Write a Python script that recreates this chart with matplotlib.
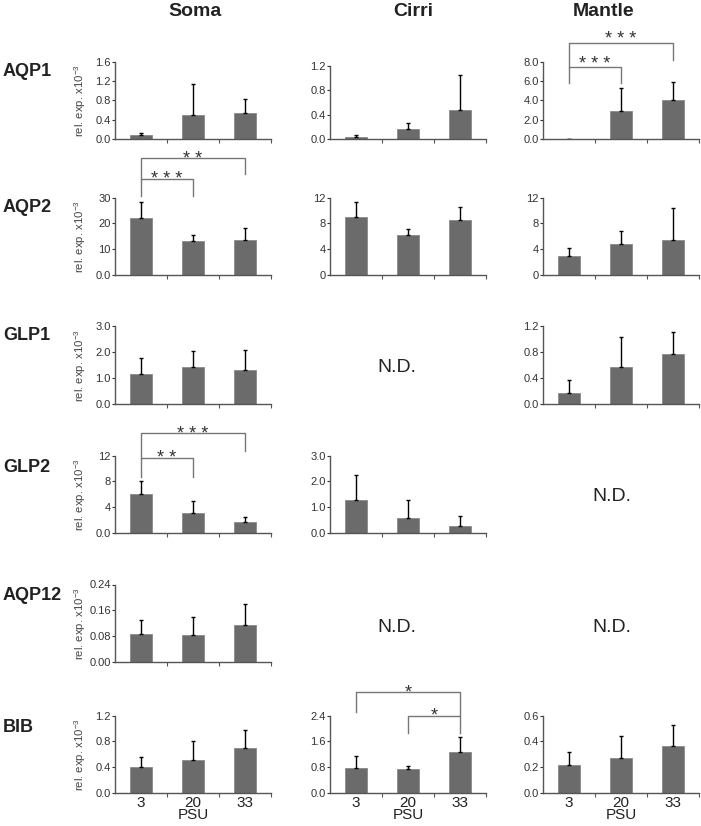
import matplotlib.pyplot as plt
import matplotlib.transforms as mtrans
import numpy as np

plt.rcParams['font.family'] = ['Liberation Sans', 'DejaVu Sans']
plt.rcParams['mathtext.fontset'] = 'custom'
plt.rcParams['mathtext.rm'] = 'Liberation Sans'

# salinity groups
psu = ['3', '20', '33']
tissues = ['Soma', 'Cirri', 'Mantle']
genes = ['AQP1', 'AQP2', 'GLP1', 'GLP2', 'AQP12', 'BIB']

# mean relative expression (x10^-3) and upper error
soma_aqp1 = [0.075, 0.49, 0.53]
soma_aqp1_err = [0.045, 0.65, 0.29]
cirri_aqp1 = [0.04, 0.16, 0.47]
cirri_aqp1_err = [0.03, 0.11, 0.58]
mantle_aqp1 = [0.05, 2.85, 4.0]
mantle_aqp1_err = [0.0, 2.45, 1.9]

soma_aqp2 = [21.9, 13.1, 13.7]
soma_aqp2_err = [6.3, 2.3, 4.4]
cirri_aqp2 = [9.05, 6.26, 8.54]
cirri_aqp2_err = [2.25, 0.88, 1.96]
mantle_aqp2 = [3.0, 4.85, 5.36]
mantle_aqp2_err = [1.2, 2.0, 4.94]

soma_glp1 = [1.15, 1.42, 1.33]
soma_glp1_err = [0.65, 0.62, 0.76]
mantle_glp1 = [0.165, 0.567, 0.78]
mantle_glp1_err = [0.2, 0.473, 0.34]

soma_glp2 = [6.1, 3.1, 1.66]
soma_glp2_err = [1.9, 1.87, 0.77]
cirri_glp2 = [1.28, 0.58, 0.29]
cirri_glp2_err = [0.95, 0.68, 0.38]

soma_aqp12 = [0.087, 0.083, 0.114]
soma_aqp12_err = [0.043, 0.056, 0.066]

soma_bib = [0.40, 0.505, 0.696]
soma_bib_err = [0.156, 0.295, 0.274]
cirri_bib = [0.77, 0.75, 1.28]
cirri_bib_err = [0.39, 0.08, 0.44]
mantle_bib = [0.213, 0.274, 0.367]
mantle_bib_err = [0.105, 0.166, 0.163]

# y tick labels per panel
ticks_soma_aqp1 = ['0.0', '0.4', '0.8', '1.2', '1.6']
ticks_cirri_aqp1 = ['0.0', '0.4', '0.8', '1.2']
ticks_mantle_aqp1 = ['0.0', '2.0', '4.0', '6.0', '8.0']
ticks_soma_aqp2 = ['0.0', '10', '20', '30']
ticks_cirri_aqp2 = ['0', '4', '8', '12']
ticks_mantle_aqp2 = ['0', '4', '8', '12']
ticks_soma_glp1 = ['0.0', '1.0', '2.0', '3.0']
ticks_mantle_glp1 = ['0.0', '0.4', '0.8', '1.2']
ticks_soma_glp2 = ['0.0', '4', '8', '12']
ticks_cirri_glp2 = ['0.0', '1.0', '2.0', '3.0']
ticks_soma_aqp12 = ['0.00', '0.08', '0.16', '0.24']
ticks_soma_bib = ['0.0', '0.4', '0.8', '1.2']
ticks_cirri_bib = ['0.0', '0.8', '1.6', '2.4']
ticks_mantle_bib = ['0.0', '0.2', '0.4', '0.6']

# significance comparisons (group a, group b, stars)
sig_soma_aqp2 = [(1, 3, '* *'), (1, 2, '* * *')]
sig_mantle_aqp1 = [(1, 3, '* * *'), (1, 2, '* * *')]
sig_soma_glp2 = [(1, 3, '* * *'), (1, 2, '* *')]
sig_cirri_bib = [(1, 3, '*'), (2, 3, '*')]

panels = {
    (0, 0): (soma_aqp1, soma_aqp1_err, ticks_soma_aqp1, None),
    (0, 1): (cirri_aqp1, cirri_aqp1_err, ticks_cirri_aqp1, None),
    (0, 2): (mantle_aqp1, mantle_aqp1_err, ticks_mantle_aqp1, sig_mantle_aqp1),
    (1, 0): (soma_aqp2, soma_aqp2_err, ticks_soma_aqp2, sig_soma_aqp2),
    (1, 1): (cirri_aqp2, cirri_aqp2_err, ticks_cirri_aqp2, None),
    (1, 2): (mantle_aqp2, mantle_aqp2_err, ticks_mantle_aqp2, None),
    (2, 0): (soma_glp1, soma_glp1_err, ticks_soma_glp1, None),
    (2, 2): (mantle_glp1, mantle_glp1_err, ticks_mantle_glp1, None),
    (3, 0): (soma_glp2, soma_glp2_err, ticks_soma_glp2, sig_soma_glp2),
    (3, 1): (cirri_glp2, cirri_glp2_err, ticks_cirri_glp2, None),
    (4, 0): (soma_aqp12, soma_aqp12_err, ticks_soma_aqp12, None),
    (5, 0): (soma_bib, soma_bib_err, ticks_soma_bib, None),
    (5, 1): (cirri_bib, cirri_bib_err, ticks_cirri_bib, sig_cirri_bib),
    (5, 2): (mantle_bib, mantle_bib_err, ticks_mantle_bib, None),
}

# bracket geometry in axes fraction: (top, left leg end, right leg end, star y)
bracket_geom = {
    (1, 0): [(1.506, 1.234, 1.30, 1.58), (1.234, 1.013, 1.013, 1.31)],
    (0, 2): [(1.244, 0.923, 1.013, 1.37), (0.923, 0.718, 0.718, 1.04)],
    (3, 0): [(1.286, 0.974, 1.052, 1.36), (0.974, 0.727, 0.727, 1.05)],
    (5, 1): [(1.30, 1.05, 1.0, 1.377), (1.0, 0.78, 0.78, 1.08)],
}

W, H = 701, 826
col_left = [115, 330, 543]
row_bottom = [139, 275, 404, 533, 662, 793]
ax_w, ax_h = 156, 77.5
short_h = {(0, 1): 73}
bar_color = '#6b6b6b'
spine_color = '#555555'

fig = plt.figure(figsize=(W / 100, H / 100), dpi=100)

title_x = [195, 413, 604]
for t, xt in zip(tissues, title_x):
    fig.text(xt / W, 1 - 11 / H, t, ha='center', va='center',
             fontsize=14, fontweight='bold', color='#222222')

gene_y = [72, 208, 335, 468, 595, 727]
for g, y in zip(genes, gene_y):
    fig.text(3 / W, 1 - y / H, g, ha='left', va='center',
             fontsize=13, fontweight='bold', color='#222222')

nd_pos = [(397, 368), (612, 497), (397, 627), (612, 627)]
for xn, yn in nd_pos:
    fig.text(xn / W, 1 - yn / H, 'N.D.', ha='center', va='center',
             fontsize=14, color='#222222')

x = np.arange(1, 4)
for (r, c), (vals, err, tlabels, sig) in panels.items():
    h = short_h.get((r, c), ax_h)
    ax = fig.add_axes([col_left[c] / W, 1 - row_bottom[r] / H, ax_w / W, h / H])
    ax.bar(x, vals, width=0.42, color=bar_color, edgecolor='#8a8a8a', linewidth=0.6)
    ax.errorbar(x, vals, yerr=[np.zeros(3), err], fmt='none', ecolor='black',
                elinewidth=1, capsize=1.5, capthick=1)
    tvals = [float(t) for t in tlabels]
    ax.set_ylim(0, tvals[-1])
    ax.set_xlim(0.5, 3.5)
    ax.set_yticks(tvals)
    ax.set_yticklabels(tlabels)
    ax.set_xticks(x)
    ax.set_xticks([1.5, 2.5, 3.5], minor=True)
    ax.tick_params(axis='y', length=2, width=0.8, pad=1, labelsize=8,
                   colors='#333333')
    ax.tick_params(axis='x', which='major', length=0, pad=2, labelsize=11,
                   labelcolor='#222222')
    ax.tick_params(axis='x', which='minor', length=3, width=0.8, color=spine_color)
    for s in ['top', 'right']:
        ax.spines[s].set_visible(False)
    for s in ['left', 'bottom']:
        ax.spines[s].set_color(spine_color)
        ax.spines[s].set_linewidth(1)
    if r == 5:
        ax.set_xticklabels(psu)
        ax.set_xlabel('PSU', fontsize=11, labelpad=-1, color='#222222')
    else:
        ax.set_xticklabels([])
    if c == 0:
        yc = 1 - (row_bottom[r] - h / 2) / H
        fig.text(80 / W, yc, 'rel. exp. x10$^{-3}$', rotation=90, ha='center',
                 va='center', fontsize=8.2, color='#444444')
    if sig:
        tr = mtrans.blended_transform_factory(ax.transData, ax.transAxes)
        for (a, b, stars), (top, lb, rb, sy) in zip(sig, bracket_geom[(r, c)]):
            ax.plot([a, a, b, b], [lb, top, top, rb], color='#777777', lw=1,
                    transform=tr, clip_on=False)
            ax.text((a + b) / 2, sy - 11 / h, stars, transform=tr, ha='center',
                    va='baseline', fontsize=13, color='#333333')

fig.savefig('out.png', dpi=100)
